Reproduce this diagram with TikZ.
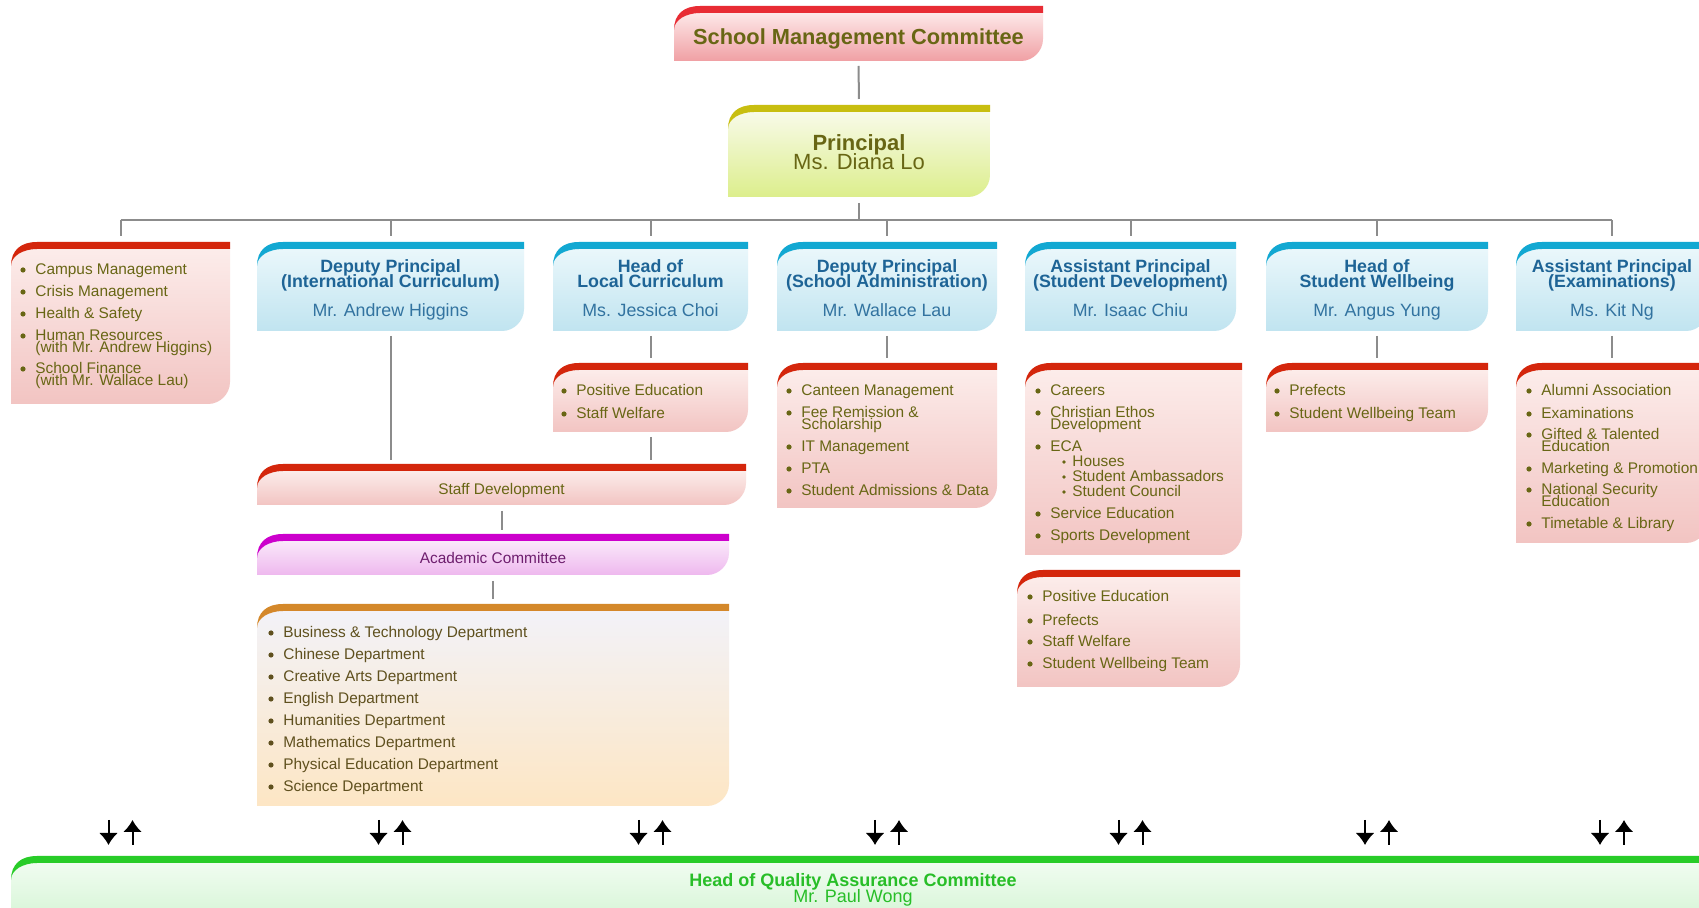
\documentclass[tikz,border=0pt]{standalone}
\usepackage{fontspec}
\setmainfont{Liberation Sans}
\usetikzlibrary{arrows.meta,calc}
\definecolor{itemcol}{RGB}{104,102,20}
\definecolor{hdrblue}{RGB}{30,100,150}
\definecolor{nameblue}{RGB}{50,115,160}
\definecolor{conncol}{RGB}{140,140,140}
\definecolor{redbar}{RGB}{212,38,12}
\definecolor{redtop}{RGB}{252,236,234}
\definecolor{redbot}{RGB}{242,196,194}
\definecolor{smcbar}{RGB}{232,44,52}
\definecolor{smctop}{RGB}{253,232,232}
\definecolor{smcbot}{RGB}{240,160,164}
\definecolor{ylwbar}{RGB}{200,190,16}
\definecolor{ylwtop}{RGB}{248,250,232}
\definecolor{ylwbot}{RGB}{220,238,140}
\definecolor{blubar}{RGB}{18,168,210}
\definecolor{blutop}{RGB}{234,247,251}
\definecolor{blubot}{RGB}{192,228,240}
\definecolor{purbar}{RGB}{204,0,204}
\definecolor{purtop}{RGB}{250,232,250}
\definecolor{purbot}{RGB}{238,184,238}
\definecolor{orgbar}{RGB}{212,136,42}
\definecolor{orgtop}{RGB}{242,242,248}
\definecolor{orgbot}{RGB}{253,230,196}
\definecolor{grnbar}{RGB}{40,204,40}
\definecolor{grntop}{RGB}{240,252,240}
\definecolor{grnbot}{RGB}{200,242,200}
\definecolor{grntxt}{RGB}{40,190,40}
\definecolor{purtxt}{RGB}{110,30,110}
\definecolor{deptxt}{RGB}{95,80,30}

\tikzset{
  boxnode/.style={inner sep=0pt,outer sep=0pt,rectangle},
  itm/.style={anchor=base west,inner sep=0pt,font=\fontsize{7.7}{9}\selectfont},
  hdr/.style={anchor=base,inner sep=0pt,font=\fontsize{8.9}{10}\selectfont\bfseries,text=hdrblue},
  nm/.style={anchor=base,inner sep=0pt,font=\fontsize{8.9}{10}\selectfont,text=nameblue},
  conn/.style={draw=conncol,line width=1pt},
  arr/.style={draw=black,line width=1pt,-{Latex[length=6pt,width=9.5pt]}},
}

\newcounter{tc}
% name, x1, y1, x2, y2, bar, top, bottom
\newcommand{\obox}[8]{%
  \path[top color=#7,bottom color=#8]
    (#2,#5) -- (#2,#3+24) .. controls (#2,#3+14) and (#2+12,#3+7) .. (#2+26,#3+7)
    -- (#4,#3+7) -- (#4,#5-22) .. controls (#4,#5-10) and (#4-10,#5) .. (#4-22,#5) -- cycle;
  \fill[#6] (#2,#3+24) .. controls (#2,#3+8) and (#2+10,#3) .. (#2+26,#3)
    -- (#4,#3) -- (#4,#3+7) -- (#2+26,#3+7) .. controls (#2+12,#3+7) and (#2,#3+14) .. (#2,#3+24) -- cycle;
  \node[boxnode,minimum width={(#4-#2)*0.5pt},minimum height={(#5-#3)*0.5pt}] (#1) at ({(#2+#4)/2},{(#3+#5)/2}) {};
}
\newcommand{\bitem}[4][itemcol]{%
  \fill[#1] (#2-12,#3) circle (1.3pt);
  \stepcounter{tc}\node[itm,text=#1] (t\thetc) at (#2,#3+4.5) {#4};}
\newcommand{\citem}[4][itemcol]{%
  \stepcounter{tc}\node[itm,text=#1] (t\thetc) at (#2,#3+4.5) {#4};}
\newcommand{\nitem}[3]{%
  \fill[itemcol] (#1-8,#2) circle (0.9pt);
  \stepcounter{tc}\node[itm,text=itemcol] (t\thetc) at (#1,#2+4.5) {#3};}
\newcommand{\hd}[4]{%
  \stepcounter{tc}\node[hdr] (t\thetc) at ($(#1.north)+(0,30.5)$) {#2};
  \stepcounter{tc}\node[hdr] (t\thetc) at ($(#1.north)+(0,45.5)$) {#3};
  \stepcounter{tc}\node[nm] (t\thetc) at ($(#1.north)+(0,74.5)$) {#4};}

\begin{document}
\begin{tikzpicture}[x=0.5pt,y=-0.5pt]
\useasboundingbox (0,0) rectangle (1699,908);
\clip (0,0) rectangle (1699,908);
\fill[white] (0,0) rectangle (1699,908);

% boxes
\obox{smc}{674}{6}{1043}{61}{smcbar}{smctop}{smcbot}
\obox{prin}{728}{105}{990}{197}{ylwbar}{ylwtop}{ylwbot}
\obox{lb}{11}{242}{230}{404}{redbar}{redtop}{redbot}
\obox{dpic}{257}{242}{524}{331}{blubar}{blutop}{blubot}
\obox{hlc}{553}{242}{748}{331}{blubar}{blutop}{blubot}
\obox{dpsa}{777}{242}{997}{331}{blubar}{blutop}{blubot}
\obox{apsd}{1025}{242}{1236}{331}{blubar}{blutop}{blubot}
\obox{hsw}{1266}{242}{1488}{331}{blubar}{blutop}{blubot}
\obox{apex}{1516}{242}{1708}{331}{blubar}{blutop}{blubot}
\obox{hlcsub}{553}{363}{748}{432}{redbar}{redtop}{redbot}
\obox{dpsasub}{777}{363}{997}{508}{redbar}{redtop}{redbot}
\obox{apsdsub}{1025}{363}{1242}{555}{redbar}{redtop}{redbot}
\obox{hswsub}{1266}{363}{1488}{432}{redbar}{redtop}{redbot}
\obox{apexsub}{1516}{363}{1708}{543}{redbar}{redtop}{redbot}
\obox{apsdsub2}{1017}{570}{1240}{687}{redbar}{redtop}{redbot}
\obox{sd}{257}{464}{746}{505}{redbar}{redtop}{redbot}
\obox{ac}{257}{534}{729}{575}{purbar}{purtop}{purbot}
\obox{dep}{257}{604}{729}{806}{orgbar}{orgtop}{orgbot}
\obox{qa}{11}{856}{1712}{950}{grnbar}{grntop}{grnbot}

% connectors
\draw[conn,shorten <=2.5pt,shorten >=3pt] (smc.south) -- (prin.north);
\coordinate (bus-l) at ($(lb.north)+(0,-22)$);
\coordinate (bus-r) at (apex.north |- bus-l);
\draw[conn] (bus-l) -- (bus-r);
\draw[conn,shorten <=3pt] (prin.south) -- (prin.south |- bus-l);
\foreach \n in {lb,dpic,hlc,dpsa,apsd,hsw,apex}{
  \draw[conn,shorten >=3pt] (\n.north |- bus-l) -- (\n.north);
}
\foreach \a/\b in {hlc/hlcsub,dpsa/dpsasub,hsw/hswsub,apex/apexsub}{
  \draw[conn,shorten <=2.5pt,shorten >=2.5pt] (\a.south) -- (\b.north);
}
\draw[conn,shorten <=2.5pt,shorten >=2pt] (dpic.south) -- (dpic.south |- sd.north);
\draw[conn,shorten <=2.5pt,shorten >=2pt] (hlcsub.south) -- (hlcsub.south |- sd.north);
\draw[conn,shorten <=3pt,shorten >=2pt] (sd.south) -- (sd.south |- ac.north);
\draw[conn,shorten <=3pt,shorten >=2.5pt] (ac.south) -- (ac.south |- dep.north);

% up/down arrows
\coordinate (arrtop) at (0,820);
\coordinate (arrbot) at (0,845);
\foreach \n in {lb,dpic,hlc,dpsa,apsd,hsw,apex}{
  \coordinate (\n-dt) at ($(\n.north |- arrtop)+(-12,0)$);
  \coordinate (\n-db) at ($(\n.north |- arrbot)+(-12,0)$);
  \coordinate (\n-ut) at ($(\n.north |- arrtop)+(12,0)$);
  \coordinate (\n-ub) at ($(\n.north |- arrbot)+(12,0)$);
  \draw[arr] (\n-dt) -- (\n-db);
  \draw[arr] (\n-ub) -- (\n-ut);
}

% titles
\node[anchor=base,inner sep=0pt,font=\fontsize{10.9}{12}\selectfont\bfseries,text=itemcol] (smct) at (858.5,45) {School Management Committee};
\node[anchor=base,inner sep=0pt,font=\fontsize{11}{12}\selectfont\bfseries,text=itemcol] (print1) at (859,151) {Principal};
\node[anchor=base,inner sep=0pt,font=\fontsize{11}{12}\selectfont,text=itemcol] (print2) at (859,170) {Ms. Diana Lo};
\node[anchor=base,inner sep=0pt,font=\fontsize{7.7}{9}\selectfont,text=itemcol] (sdt) at ($(sd.north)+(0,30.5)$) {Staff Development};
\node[anchor=base,inner sep=0pt,font=\fontsize{7.7}{9}\selectfont,text=purtxt] (act) at ($(ac.north)+(0,29.5)$) {Academic Committee};
\node[anchor=base,inner sep=0pt,font=\fontsize{9}{10}\selectfont\bfseries,text=grntxt] (qat1) at (853,886) {Head of Quality Assurance Committee};
\node[anchor=base,inner sep=0pt,font=\fontsize{9}{10}\selectfont,text=grntxt] (qat2) at (853,902.5) {Mr. Paul Wong};

\hd{dpic}{Deputy Principal}{(International Curriculum)}{Mr. Andrew Higgins}
\hd{hlc}{Head of}{Local Curriculum}{Ms. Jessica Choi}
\hd{dpsa}{Deputy Principal}{(School Administration)}{Mr. Wallace Lau}
\hd{apsd}{Assistant Principal}{(Student Development)}{Mr. Isaac Chiu}
\hd{hsw}{Head of}{Student Wellbeing}{Mr. Angus Yung}
\hd{apex}{Assistant Principal}{(Examinations)}{Ms. Kit Ng}

% left box
\bitem{35}{270}{Campus Management}
\bitem{35}{292}{Crisis Management}
\bitem{35}{314}{Health \& Safety}
\bitem{35}{336}{Human Resources}
\citem{35}{348}{(with Mr. Andrew Higgins)}
\bitem{35}{369}{School Finance}
\citem{35}{381}{(with Mr. Wallace Lau)}

% HLC sub
\bitem{576}{391}{Positive Education}
\bitem{576}{414}{Staff Welfare}

% DPSA sub
\bitem{801}{391}{Canteen Management}
\bitem{801}{413}{Fee Remission \&}
\citem{801}{425}{Scholarship}
\bitem{801}{447}{IT Management}
\bitem{801}{469}{PTA}
\bitem{801}{491}{Student Admissions \& Data}

% APSD sub
\bitem{1050}{391}{Careers}
\bitem{1050}{413}{Christian Ethos}
\citem{1050}{425}{Development}
\bitem{1050}{447}{ECA}
\nitem{1072}{462}{Houses}
\nitem{1072}{477}{Student Ambassadors}
\nitem{1072}{492}{Student Council}
\bitem{1050}{514}{Service Education}
\bitem{1050}{536}{Sports Development}

% HSW sub
\bitem{1289}{391}{Prefects}
\bitem{1289}{414}{Student Wellbeing Team}

% APEX sub
\bitem{1541}{391}{Alumni Association}
\bitem{1541}{414}{Examinations}
\bitem{1541}{435}{Gifted \& Talented}
\citem{1541}{447}{Education}
\bitem{1541}{469}{Marketing \& Promotion}
\bitem{1541}{490}{National Security}
\citem{1541}{502}{Education}
\bitem{1541}{524}{Timetable \& Library}

% APSD second sub
\bitem{1042}{597}{Positive Education}
\bitem{1042}{621}{Prefects}
\bitem{1042}{642}{Staff Welfare}
\bitem{1042}{664}{Student Wellbeing Team}

% departments
\bitem[deptxt]{283}{633}{Business \& Technology Department}
\bitem[deptxt]{283}{655}{Chinese Department}
\bitem[deptxt]{283}{677}{Creative Arts Department}
\bitem[deptxt]{283}{699}{English Department}
\bitem[deptxt]{283}{721}{Humanities Department}
\bitem[deptxt]{283}{743}{Mathematics Department}
\bitem[deptxt]{283}{765}{Physical Education Department}
\bitem[deptxt]{283}{787}{Science Department}
\end{tikzpicture}
\end{document}
